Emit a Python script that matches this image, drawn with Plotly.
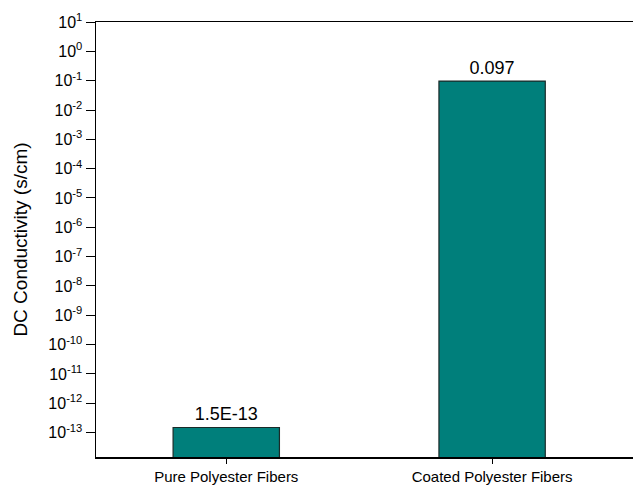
import plotly.graph_objects as go

categories = ["Pure Polyester Fibers", "Coated Polyester Fibers"]
values = [1.5e-13, 0.097]
labels = ["1.5E-13", "0.097"]
tick_exps = list(range(-13, 2))

font = "Liberation Sans, Arial, sans-serif"

fig = go.Figure(go.Bar(
    x=categories, y=values, text=labels, textposition="outside",
    textfont=dict(size=18, color="black", family=font),
    marker=dict(color="#007F7B", line=dict(color="#1a2a28", width=1.2)),
    width=0.4, cliponaxis=False, hoverinfo="skip",
))

fig.update_layout(
    width=633, height=489,
    margin=dict(l=96, r=0, t=22, b=32, pad=0, autoexpand=False),
    paper_bgcolor="white", plot_bgcolor="white",
    showlegend=False,
    font=dict(family=font, color="black"),
)
fig.update_xaxes(
    range=[-0.49, 1.53], showline=True, linecolor="black", linewidth=1.5,
    mirror=True, ticks="outside", ticklen=5, tickcolor="black", automargin=False,
    tickfont=dict(size=15, family=font), showgrid=False,
)
fig.update_yaxes(
    type="log", range=[-13.83, 1], showline=True, linecolor="black", linewidth=1.5,
    ticks="outside", ticklen=9, tickcolor="black", showgrid=False, zeroline=False,
    automargin=False,
    tickvals=[10.0 ** e for e in tick_exps],
    ticktext=[f"10<sup>{e}</sup>" for e in tick_exps],
    tickfont=dict(size=16, family=font),
    title=dict(text="DC Conductivity (s/cm)", font=dict(size=19, family=font)),
)

fig.write_html(
    "out.html",
    config={"displayModeBar": False, "staticPlot": True},
    post_script="document.body.style.margin='0';document.body.style.overflow='hidden';",
)
